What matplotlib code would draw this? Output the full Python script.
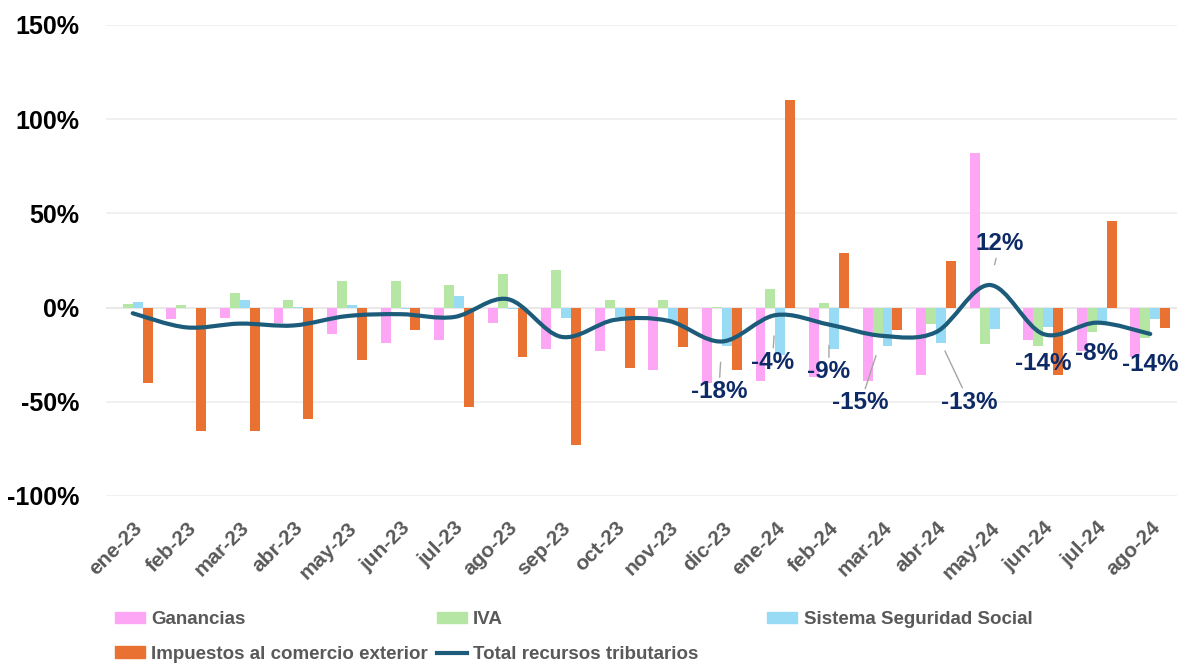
import matplotlib.pyplot as plt
import numpy as np
from matplotlib.path import Path
from matplotlib.patches import PathPatch, Patch
from matplotlib.lines import Line2D

plt.rcParams['font.family'] = ['Liberation Sans', 'DejaVu Sans']

months = ["ene-23", "feb-23", "mar-23", "abr-23", "may-23", "jun-23", "jul-23",
          "ago-23", "sep-23", "oct-23", "nov-23", "dic-23", "ene-24", "feb-24",
          "mar-24", "abr-24", "may-24", "jun-24", "jul-24", "ago-24"]

ganancias = [0, -6, -5.5, -8, -14, -19, -17, -8, -22, -23, -33, -40, -39, -37,
             -39, -36, 82, -17, -23, -26]
iva = [2, 1.5, 8, 4, 14, 14, 12, 18, 20, 4, 4, 0.5, 10, 2.5,
       -15, -8.5, -19.5, -20.5, -13, -16]
seguridad_social = [3, 0, 4, 0.5, 1.5, -0.5, 6, -1, -5.5, -5, -8, -20.5, -25, -22,
                    -20.5, -19, -11.5, -10.5, -8, -6]
comercio_exterior = [-40, -65.5, -65.5, -59, -28, -12, -52.5, -26, -73, -32, -21, -33, 110, 29,
                     -12, 24.5, 0, -36, 46, -11]
total = [-3, -10.5, -8.5, -9.5, -4.5, -3.5, -5, 4.5, -15.5, -6.5, -7, -18, -4, -9,
         -15, -13, 12, -14, -8, -14]

# which total points carry a label (from dic-23 on)
label_start = 11
# label offsets in pixels (dx, dy), and whether a leader line is drawn
label_offsets = [(-3, -50), (-3, -47), (0, -47), (-22, -67), (33, -70), (10, 41),
                 (0, -30), (0, -31), (0, -31)]
label_leaders = [True, True, True, True, True, True, False, False, False]

c_gan = "#FCA6F5"
c_iva = "#B6E6A3"
c_ss = "#98DBF4"
c_ce = "#E97132"
c_tot = "#1C5C7A"
c_lab = "#0E2A66"

fig = plt.figure(figsize=(11.8, 6.63), dpi=100)
ax = fig.add_axes([0.0898, 0.2519, 0.9077, 0.7104])

x = np.arange(len(months))
w = 0.185
ax.bar(x - 1.5 * w, ganancias, w, color=c_gan, zorder=2)
ax.bar(x - 0.5 * w, iva, w, color=c_iva, zorder=2)
ax.bar(x + 0.5 * w, seguridad_social, w, color=c_ss, zorder=2)
ax.bar(x + 1.5 * w, comercio_exterior, w, color=c_ce, zorder=2)

# smoothed line (Catmull-Rom as cubic Bezier segments)
pts = np.column_stack([x, total]).astype(float)
ext = np.vstack([pts[0], pts, pts[-1]])
verts = [tuple(pts[0])]
codes = [Path.MOVETO]
for i in range(len(pts) - 1):
    p0, p1, p2, p3 = ext[i], ext[i + 1], ext[i + 2], ext[i + 3]
    c1 = p1 + (p2 - p0) / 6.0
    c2 = p2 - (p3 - p1) / 6.0
    verts += [tuple(c1), tuple(c2), tuple(p2)]
    codes += [Path.CURVE4] * 3
ax.add_patch(PathPatch(Path(verts, codes), facecolor="none", edgecolor=c_tot,
                       lw=3.0, capstyle="round", zorder=3))

for k, (dx, dy) in enumerate(label_offsets):
    i = label_start + k
    v = total[i]
    arrow = dict(arrowstyle="-", color="#A6A6A6", lw=1.0, shrinkA=0, shrinkB=15) if label_leaders[k] else None
    ax.annotate(f"{v:.0f}%", xy=(x[i], v), xytext=(dx, dy), textcoords="offset pixels",
                ha="center", va="center", fontsize=17.5, fontweight="bold", color=c_lab,
                arrowprops=arrow, zorder=4)

ax.set_xlim(-0.5, len(months) - 0.5)
ax.set_ylim(-100, 150)
ax.set_yticks([-100, -50, 0, 50, 100, 150])
ax.set_yticklabels([f"{t}%" for t in [-100, -50, 0, 50, 100, 150]],
                   fontsize=18, fontweight="bold", color="black")
ax.set_xticks(x)
ax.set_xticklabels(months, rotation=45, ha="right", va="top", rotation_mode="anchor",
                   fontsize=15, fontweight="bold", color="#595959")
ax.tick_params(axis="both", length=0)
ax.tick_params(axis="y", pad=19)
ax.tick_params(axis="x", pad=16)
ax.yaxis.grid(True, color="#EDEDED", lw=1.2, zorder=0)
ax.axhline(0, color="#D9D9D9", lw=1.5, zorder=1)
for s in ax.spines.values():
    s.set_visible(False)

legend_style = dict(loc="lower left", frameon=False, handlelength=1.6, handleheight=0.55,
                    handletextpad=0.35, labelspacing=0.95,
                    prop=dict(size=13.5, weight="bold"), labelcolor="#595959")
handles = [Patch(color=c_gan), Patch(color=c_ce), Patch(color=c_iva),
           Line2D([], [], color=c_tot, lw=3.0)]
names = ["Ganancias", "Impuestos al comercio exterior", "IVA",
         "Total recursos tributarios"]
fig.legend(handles, names, ncol=2, bbox_to_anchor=(0.083, -0.025),
           columnspacing=0.45, **legend_style)
fig.legend([Patch(color=c_ss), Line2D([], [], color="none")], ["Sistema Seguridad Social", " "],
           ncol=1, bbox_to_anchor=(0.636, -0.025), **legend_style)

fig.savefig("out.png", dpi=100)
